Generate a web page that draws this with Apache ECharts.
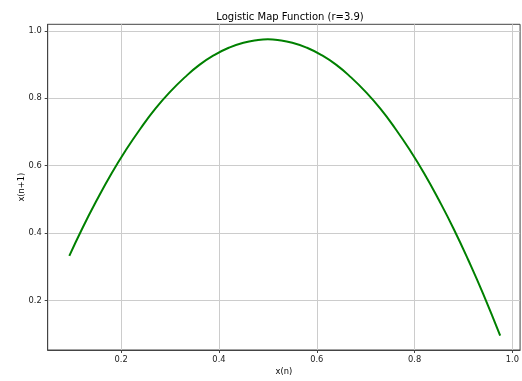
<!DOCTYPE html>
<html>
<head>
<meta charset="utf-8">
<script src="https://cdn.jsdelivr.net/npm/echarts@6/dist/echarts.min.js"></script>
<style>html,body{margin:0;padding:0;background:#fff}#c{width:522px;height:381px}</style>
</head>
<body>
<div id="c"></div>
<script>
// x(n) values
var xValues = [0.094, 0.12, 0.15, 0.18, 0.21, 0.24, 0.27, 0.30, 0.33, 0.36, 0.39, 0.42, 0.45, 0.48, 0.50,
               0.52, 0.55, 0.58, 0.61, 0.64, 0.67, 0.70, 0.73, 0.76, 0.79, 0.82, 0.85, 0.88, 0.91, 0.94, 0.975];
// x(n+1) values
var yValues = [0.332, 0.412, 0.497, 0.576, 0.647, 0.711, 0.769, 0.819, 0.862, 0.899, 0.928, 0.950, 0.965, 0.973, 0.975,
               0.973, 0.965, 0.950, 0.928, 0.899, 0.862, 0.819, 0.769, 0.711, 0.647, 0.576, 0.497, 0.412, 0.319, 0.220, 0.095];
var xTicks = [0.2, 0.4, 0.6, 0.8, 1.0];
var yTicks = [0.2, 0.4, 0.6, 0.8, 1.0];

var points = xValues.map(function (x, i) { return [x, yValues[i]]; });
var font = 'DejaVu Sans';
var chart = echarts.init(document.getElementById('c'), null, {renderer: 'canvas'});
chart.setOption({
  animation: false,
  backgroundColor: '#ffffff',
  title: {
    text: 'Logistic Map Function (r=3.9)',
    left: 285, top: 7, textAlign: 'center',
    textStyle: {fontFamily: font, fontSize: 10, fontWeight: 'normal', color: '#000'}
  },
  grid: {left: 47.7, right: 0.7, top: 24.3, bottom: 27, containLabel: false,
         show: true, borderColor: '#444', borderWidth: 1, backgroundColor: 'transparent'},
  xAxis: {
    type: 'value', min: 0.0498, max: 1.0157,
    name: 'x(n)', nameLocation: 'middle', nameGap: 18, nameMoveOverlap: false,
    nameTextStyle: {fontFamily: font, fontSize: 8.3, color: '#000'},
    axisLine: {show: true, onZero: false, lineStyle: {color: '#444', width: 1}},
    axisTick: {show: true, length: 3, customValues: xTicks, lineStyle: {color: '#444'}},
    axisLabel: {customValues: xTicks, margin: 6, fontFamily: font, fontSize: 8.3, color: '#222',
                formatter: function (v) { return v.toFixed(1); }},
    splitLine: {show: true, lineStyle: {color: '#cccccc', width: 1}}
  },
  yAxis: {
    type: 'value', min: 0.0526, max: 1.0196,
    name: 'x(n+1)', nameLocation: 'middle', nameGap: 22, nameRotate: 90, nameMoveOverlap: false,
    nameTextStyle: {fontFamily: font, fontSize: 8.3, color: '#000'},
    axisLine: {show: true, onZero: false, lineStyle: {color: '#444', width: 1}},
    axisTick: {show: true, length: 3, customValues: yTicks, lineStyle: {color: '#444'}},
    axisLabel: {customValues: yTicks, margin: 6, fontFamily: font, fontSize: 8.3, color: '#222',
                formatter: function (v) { return v.toFixed(1); }},
    splitLine: {show: true, lineStyle: {color: '#cccccc', width: 1}}
  },
  series: [{
    type: 'line', data: points, smooth: true, showSymbol: false,
    lineStyle: {color: '#008000', width: 2}, itemStyle: {color: '#008000'}
  }]
});
</script>
</body>
</html>
